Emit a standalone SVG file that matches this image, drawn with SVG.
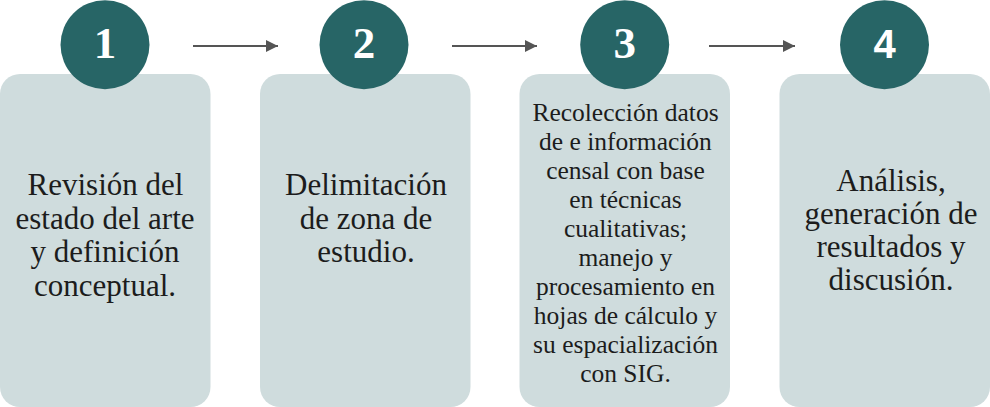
<svg xmlns="http://www.w3.org/2000/svg" width="990" height="407" viewBox="0 0 990 407">
<defs>
<style>
.box{fill:#cfdcdd;}
.circ{fill:#276566;}
.num{fill:#ffffff;font-family:"Liberation Serif",serif;font-weight:bold;font-size:45px;text-anchor:middle;}
.num4{fill:#ffffff;font-family:"Liberation Sans",sans-serif;font-weight:bold;font-size:40px;text-anchor:middle;}
.t{fill:#1c1c1c;font-family:"Liberation Serif",serif;font-size:31px;text-anchor:middle;}
.ts{fill:#1c1c1c;font-family:"Liberation Serif",serif;font-size:25.5px;text-anchor:middle;}
.conn{stroke:#555555;stroke-width:2;fill:none;}
</style>
<marker id="ah" markerWidth="12" markerHeight="12" refX="12" refY="6" orient="auto" markerUnits="userSpaceOnUse">
<path d="M0,0 L12,6 L0,12 Z" fill="#555555"/>
</marker>
</defs>
<rect width="990" height="407" fill="#ffffff"/>
<g id="connectors">
<line class="conn" x1="193" y1="46" x2="278" y2="46" marker-end="url(#ah)"/>
<line class="conn" x1="452" y1="46" x2="537" y2="46" marker-end="url(#ah)"/>
<line class="conn" x1="709" y1="46" x2="795" y2="46" marker-end="url(#ah)"/>
</g>
<g id="node1">
<rect class="box" x="0" y="74" width="210.5" height="333" rx="20"/>
<circle class="circ" cx="105" cy="44.7" r="44.5"/>
<text class="num" x="105" y="58">1</text>
<text class="t" x="105.5" y="195">Revisión del</text>
<text class="t" x="105" y="228.5">estado del arte</text>
<text class="t" x="105" y="262">y definición</text>
<text class="t" x="105" y="295.5">conceptual.</text>
</g>
<g id="node2">
<rect class="box" x="260" y="74" width="210.5" height="333" rx="20"/>
<circle class="circ" cx="364" cy="44.7" r="44.5"/>
<text class="num" x="364" y="58">2</text>
<text class="t" x="366" y="195">Delimitación</text>
<text class="t" x="366" y="228.5">de zona de</text>
<text class="t" x="366" y="262">estudio.</text>
</g>
<g id="node3">
<rect class="box" x="519.5" y="74" width="210.5" height="333" rx="20"/>
<circle class="circ" cx="624.7" cy="44.7" r="44.5"/>
<text class="num" x="624.7" y="58">3</text>
<text class="ts" x="625.5" y="121">Recolección datos</text>
<text class="ts" x="625.5" y="150">de e información</text>
<text class="ts" x="625.5" y="179">censal con base</text>
<text class="ts" x="625.5" y="208">en técnicas</text>
<text class="ts" x="625.5" y="237">cualitativas;</text>
<text class="ts" x="625.5" y="266">manejo y</text>
<text class="ts" x="625.5" y="295">procesamiento en</text>
<text class="ts" x="625.5" y="324">hojas de cálculo y</text>
<text class="ts" x="625.5" y="353">su espacialización</text>
<text class="ts" x="625.5" y="382">con SIG.</text>
</g>
<g id="node4">
<rect class="box" x="779.5" y="74" width="210.5" height="333" rx="20"/>
<circle class="circ" cx="884.5" cy="44.7" r="44.5"/>
<text class="num4" x="884.5" y="58">4</text>
<text class="t" x="891" y="191">Análisis,</text>
<text class="t" x="891" y="224">generación de</text>
<text class="t" x="891" y="257">resultados y</text>
<text class="t" x="891" y="290">discusión.</text>
</g>
</svg>
